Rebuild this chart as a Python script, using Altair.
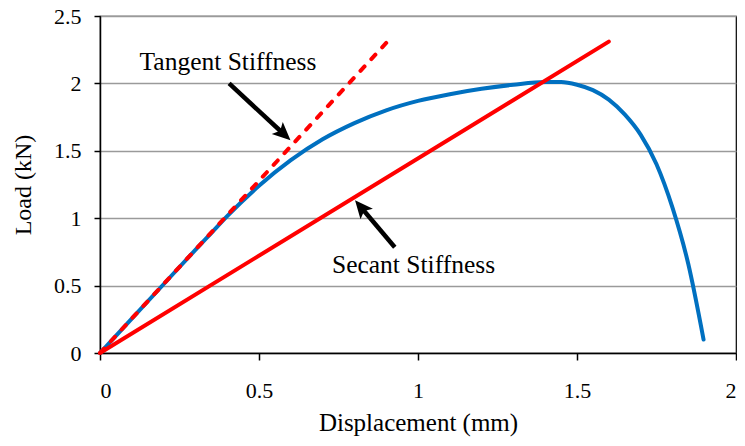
import math
import altair as alt
import pandas as pd

# ---- data ----
disp = [0, 0.1, 0.2, 0.3, 0.35, 0.4, 0.5, 0.6, 0.7, 0.8, 0.9, 1.0, 1.1, 1.2, 1.3, 1.4, 1.45,
        1.5, 1.55, 1.6, 1.65, 1.7, 1.75, 1.8, 1.85, 1.898]
load = [0, 0.255, 0.51, 0.765, 0.89, 1.015, 1.24, 1.43, 1.585, 1.705, 1.80, 1.87, 1.92, 1.96, 1.99, 2.01, 2.01,
        1.99, 1.95, 1.88, 1.77, 1.62, 1.40, 1.08, 0.66, 0.1]

tangent_x = [0, 0.9]
tangent_y = [0, 2.3]
secant_x = [0, 1.6]
secant_y = [0, 2.31]

label_text = ["Tangent Stiffness", "Secant Stiffness"]
label_x = [0.4025, 0.986]
label_y = [2.096, 0.59]

arrow_x0 = [0.406, 0.927]
arrow_y0 = [2.0, 0.785]
arrow_x1 = [0.599, 0.802]
arrow_y1 = [1.578, 1.133]

x_ticks = [0, 0.5, 1, 1.5, 2]
y_ticks = [0, 0.5, 1, 1.5, 2, 2.5]

W, H = 636, 337
XMAX, YMAX = 2, 2.5
FONT = "Liberation Serif"

# ---- tables ----
curve = pd.DataFrame({"x": disp, "y": load})
tan = pd.DataFrame({"x": tangent_x, "y": tangent_y})
sec = pd.DataFrame({"x": secant_x, "y": secant_y})
labels = pd.DataFrame({"t": label_text, "x": label_x, "y": label_y})

rows = []
for x0, y0, x1, y1 in zip(arrow_x0, arrow_y0, arrow_x1, arrow_y1):
    dxp = (x1 - x0) * W / XMAX
    dyp = -(y1 - y0) * H / YMAX
    ang = math.degrees(math.atan2(dxp, -dyp)) % 360
    f = 0.85  # shaft stops inside the head
    rows.append({"x0": x0, "y0": y0, "xe": x0 + f * (x1 - x0), "ye": y0 + f * (y1 - y0),
                 "x1": x1, "y1": y1, "ang": ang})
arrows = pd.DataFrame(rows)

xs = alt.Scale(domain=[0, XMAX], nice=False)
ys = alt.Scale(domain=[0, YMAX], nice=False)

x_axis = alt.Axis(values=x_ticks, format="~g", title="Displacement (mm)", grid=False,
                  labelFont=FONT, labelFontSize=22, labelColor="black", labelPadding=20,
                  tickSize=7, tickColor="black", tickWidth=1.5,
                  domainColor="black", domainWidth=1.5,
                  titleFont=FONT, titleFontSize=25, titleFontWeight="normal", titleColor="black",
                  titleBaseline="alphabetic", titleY=77)
y_axis = alt.Axis(values=y_ticks, format="~g", title="Load (kN)", grid=True, gridColor="#9a9a9a",
                  gridWidth=1.3,
                  labelFont=FONT, labelFontSize=22, labelColor="black", labelPadding=13,
                  tickSize=6, tickColor="black", tickWidth=1.5,
                  domainColor="black", domainWidth=1.5,
                  titleFont=FONT, titleFontSize=24, titleFontWeight="normal", titleColor="black",
                  titleBaseline="alphabetic", titleX=-70)

base_curve = alt.Chart(curve).mark_line(color="#0070C0", strokeWidth=4, interpolate="monotone",
                                        strokeCap="round").encode(
    x=alt.X("x:Q", scale=xs, axis=x_axis),
    y=alt.Y("y:Q", scale=ys, axis=y_axis),
)

tan_line = alt.Chart(tan).mark_line(color="#FF0000", strokeWidth=4, strokeDash=[6, 10], strokeCap="round").encode(
    x=alt.X("x:Q", scale=xs), y=alt.Y("y:Q", scale=ys))
sec_line = alt.Chart(sec).mark_line(color="#FF0000", strokeWidth=4, strokeCap="round").encode(
    x=alt.X("x:Q", scale=xs), y=alt.Y("y:Q", scale=ys))

text = alt.Chart(labels).mark_text(font=FONT, fontSize=25.5, color="black", align="center",
                                   baseline="alphabetic").encode(
    x=alt.X("x:Q", scale=xs), y=alt.Y("y:Q", scale=ys), text="t:N")

shaft = alt.Chart(arrows).mark_rule(color="black", strokeWidth=4.5).encode(
    x=alt.X("x0:Q", scale=xs), y=alt.Y("y0:Q", scale=ys), x2="xe:Q", y2="ye:Q")

head = alt.Chart(arrows).mark_point(shape="M0,0L0.45,1L0,0.78L-0.45,1Z", filled=True, opacity=1,
                                     color="black", size=1300, strokeWidth=0).encode(
    x=alt.X("x1:Q", scale=xs), y=alt.Y("y1:Q", scale=ys), angle=alt.Angle("ang:Q", scale=None))

chart = alt.layer(base_curve, tan_line, sec_line, text, shaft, head).properties(
    width=W, height=H,
    autosize=alt.AutoSizeParams(type="none"),
    padding={"left": 92, "top": 8, "right": 1, "bottom": 84},
    background="white",
).configure_view(stroke="black", strokeWidth=1.2)

chart.save("out.html", embed_options={"renderer": "svg", "actions": False})
